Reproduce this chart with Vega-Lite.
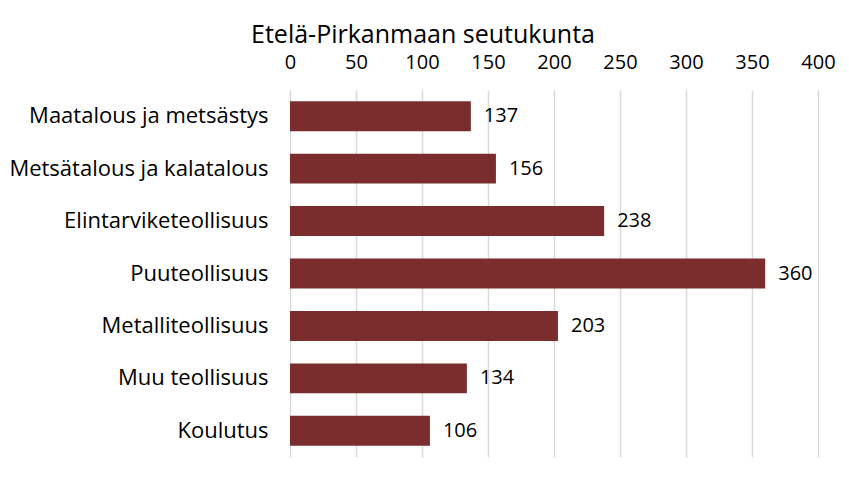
{
  "$schema": "https://vega.github.io/schema/vega-lite/v6.json",
  "autosize": "none",
  "width": 528,
  "height": 367,
  "padding": {"left": 290, "top": 90, "right": 31, "bottom": 36},
  "background": "white",
  "title": {
    "text": "Etelä-Pirkanmaan seutukunta",
    "frame": "group",
    "anchor": "middle",
    "dx": -131,
    "offset": 4,
    "font": "Open Sans",
    "fontSize": 25,
    "fontWeight": "normal",
    "color": "#000000"
  },
  "data": {
    "values": [
      {"toimiala": "Maatalous ja metsästys", "arvo": 137},
      {"toimiala": "Metsätalous ja kalatalous", "arvo": 156},
      {"toimiala": "Elintarviketeollisuus", "arvo": 238},
      {"toimiala": "Puuteollisuus", "arvo": 360},
      {"toimiala": "Metalliteollisuus", "arvo": 203},
      {"toimiala": "Muu teollisuus", "arvo": 134},
      {"toimiala": "Koulutus", "arvo": 106}
    ]
  },
  "encoding": {
    "y": {
      "field": "toimiala",
      "type": "nominal",
      "sort": null,
      "scale": {"paddingInner": 0.4286, "paddingOuter": 0.2143},
      "axis": {
        "title": null,
        "domain": false,
        "ticks": false,
        "labelPadding": 22,
        "labelFont": "Open Sans",
        "labelFontSize": 22,
        "labelColor": "#000000",
        "labelLimit": 400
      }
    },
    "x": {
      "field": "arvo",
      "type": "quantitative",
      "scale": {"domain": [0, 400], "nice": false},
      "axis": {
        "orient": "top",
        "title": null,
        "values": [0, 50, 100, 150, 200, 250, 300, 350, 400],
        "domain": false,
        "ticks": false,
        "grid": true,
        "gridColor": "#d9d9d9",
        "gridWidth": 1.5,
        "labelFlush": false,
        "labelPadding": 18,
        "labelFont": "Open Sans",
        "labelFontSize": 20,
        "labelColor": "#000000"
      }
    }
  },
  "layer": [
    {"mark": {"type": "bar", "color": "#7b2c2c"}},
    {
      "mark": {"type": "text", "align": "left", "baseline": "middle", "dx": 13, "font": "Open Sans", "fontSize": 20, "color": "#000000"},
      "encoding": {"text": {"field": "arvo", "type": "quantitative"}}
    }
  ],
  "config": {"view": {"stroke": null}}
}
